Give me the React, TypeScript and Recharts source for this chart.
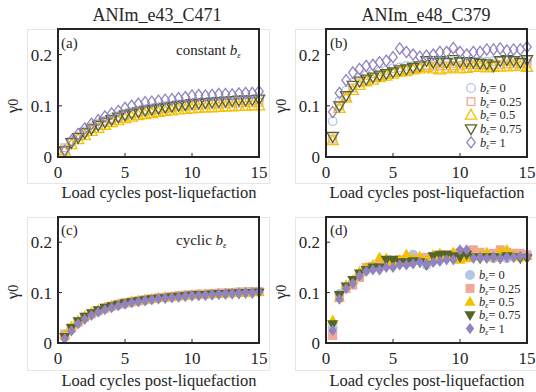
import React from "react";
import { ScatterChart, Scatter, XAxis, YAxis } from "recharts";

const cycles = [
  0.5, 1, 1.5, 2, 2.5, 3, 3.5, 4, 4.5, 5, 5.5, 6, 6.5, 7, 7.5, 8, 8.5, 9, 9.5,
  10, 10.5, 11, 11.5, 12, 12.5, 13, 13.5, 14, 14.5, 15,
];
const bLabels = ["0", "0.25", "0.5", "0.75", "1"];
const xTicks = [0, 5, 10, 15];
const yTicks = [0, 0.1, 0.2];
const titles = ["ANIm_e43_C471", "ANIm_e48_C379"];

// (a) constant b
const a0 = [0.014, 0.03, 0.04, 0.05, 0.058, 0.065, 0.071, 0.076, 0.08, 0.084, 0.087, 0.09, 0.093, 0.095, 0.097, 0.099, 0.1, 0.102, 0.103, 0.104, 0.105, 0.106, 0.107, 0.108, 0.108, 0.109, 0.11, 0.11, 0.111, 0.112];
const a025 = [0.018, 0.03, 0.04, 0.048, 0.056, 0.062, 0.068, 0.073, 0.077, 0.081, 0.084, 0.087, 0.089, 0.091, 0.093, 0.095, 0.096, 0.098, 0.099, 0.1, 0.101, 0.102, 0.103, 0.103, 0.104, 0.105, 0.105, 0.106, 0.106, 0.107];
const a05 = [0.012, 0.024, 0.034, 0.042, 0.05, 0.056, 0.062, 0.067, 0.071, 0.075, 0.078, 0.081, 0.083, 0.085, 0.087, 0.089, 0.09, 0.092, 0.093, 0.094, 0.095, 0.096, 0.096, 0.097, 0.098, 0.098, 0.099, 0.099, 0.1, 0.1];
const a075 = [0.012, 0.028, 0.038, 0.047, 0.055, 0.062, 0.068, 0.073, 0.078, 0.082, 0.085, 0.088, 0.091, 0.093, 0.095, 0.097, 0.099, 0.101, 0.102, 0.104, 0.105, 0.106, 0.107, 0.108, 0.109, 0.11, 0.111, 0.111, 0.112, 0.113];
const a1 = [0.012, 0.032, 0.045, 0.056, 0.065, 0.072, 0.079, 0.085, 0.09, 0.096, 0.1, 0.104, 0.107, 0.108, 0.11, 0.112, 0.113, 0.115, 0.117, 0.12, 0.121, 0.12, 0.121, 0.123, 0.123, 0.122, 0.124, 0.125, 0.125, 0.128];

// (b) constant b
const b0 = [0.07, 0.11, 0.13, 0.145, 0.155, 0.16, 0.163, 0.167, 0.17, 0.173, 0.175, 0.178, 0.178, 0.18, 0.18, 0.18, 0.182, 0.183, 0.183, 0.185, 0.185, 0.185, 0.186, 0.186, 0.187, 0.187, 0.187, 0.188, 0.188, 0.189];
const b025 = [0.035, 0.1, 0.118, 0.135, 0.145, 0.15, 0.155, 0.158, 0.162, 0.165, 0.168, 0.17, 0.173, 0.175, 0.178, 0.177, 0.178, 0.178, 0.178, 0.179, 0.18, 0.18, 0.18, 0.18, 0.181, 0.181, 0.182, 0.182, 0.183, 0.183];
const b05 = [0.032, 0.095, 0.115, 0.13, 0.14, 0.147, 0.15, 0.155, 0.158, 0.162, 0.166, 0.167, 0.17, 0.172, 0.175, 0.172, 0.17, 0.172, 0.174, 0.172, 0.173, 0.175, 0.175, 0.174, 0.175, 0.176, 0.176, 0.177, 0.177, 0.175];
const b075 = [0.04, 0.1, 0.12, 0.14, 0.148, 0.152, 0.156, 0.16, 0.163, 0.166, 0.17, 0.172, 0.175, 0.178, 0.188, 0.185, 0.188, 0.185, 0.19, 0.186, 0.186, 0.185, 0.183, 0.182, 0.178, 0.188, 0.19, 0.188, 0.185, 0.19];
const b1 = [0.088, 0.125, 0.15, 0.165, 0.172, 0.178, 0.18, 0.185, 0.188, 0.195, 0.212, 0.205, 0.2, 0.196, 0.198, 0.2, 0.205, 0.205, 0.213, 0.205, 0.2, 0.205, 0.205, 0.21, 0.21, 0.212, 0.208, 0.21, 0.21, 0.215];

// (c) cyclic b
const c0 = [0.012, 0.028, 0.04, 0.05, 0.057, 0.063, 0.068, 0.072, 0.075, 0.078, 0.081, 0.083, 0.085, 0.087, 0.089, 0.09, 0.091, 0.093, 0.094, 0.095, 0.096, 0.096, 0.097, 0.098, 0.099, 0.099, 0.1, 0.101, 0.101, 0.102];
const c025 = [0.018, 0.03, 0.042, 0.051, 0.058, 0.064, 0.069, 0.073, 0.077, 0.08, 0.082, 0.084, 0.086, 0.088, 0.09, 0.091, 0.092, 0.094, 0.095, 0.096, 0.097, 0.097, 0.098, 0.099, 0.099, 0.1, 0.101, 0.101, 0.102, 0.102];
const c05 = [0.016, 0.033, 0.045, 0.054, 0.061, 0.066, 0.071, 0.075, 0.078, 0.08, 0.083, 0.085, 0.087, 0.088, 0.09, 0.091, 0.092, 0.093, 0.094, 0.095, 0.096, 0.097, 0.097, 0.098, 0.099, 0.099, 0.1, 0.1, 0.101, 0.101];
const c075 = [0.012, 0.03, 0.043, 0.052, 0.059, 0.065, 0.07, 0.073, 0.076, 0.079, 0.081, 0.083, 0.085, 0.087, 0.088, 0.089, 0.091, 0.092, 0.093, 0.094, 0.095, 0.095, 0.096, 0.097, 0.097, 0.098, 0.098, 0.099, 0.099, 0.1];
const c1 = [0.008, 0.024, 0.038, 0.047, 0.055, 0.061, 0.066, 0.07, 0.074, 0.077, 0.08, 0.082, 0.084, 0.086, 0.088, 0.089, 0.09, 0.091, 0.093, 0.094, 0.094, 0.095, 0.096, 0.097, 0.098, 0.098, 0.099, 0.1, 0.1, 0.101];

// (d) cyclic b
const d0 = [0.03, 0.097, 0.11, 0.12, 0.135, 0.145, 0.15, 0.155, 0.158, 0.16, 0.162, 0.165, 0.175, 0.165, 0.155, 0.163, 0.168, 0.17, 0.172, 0.18, 0.175, 0.172, 0.17, 0.172, 0.168, 0.17, 0.168, 0.172, 0.172, 0.173];
const d025 = [0.015, 0.09, 0.108, 0.115, 0.13, 0.15, 0.152, 0.155, 0.16, 0.16, 0.165, 0.16, 0.165, 0.168, 0.17, 0.172, 0.172, 0.175, 0.175, 0.18, 0.175, 0.185, 0.18, 0.175, 0.178, 0.185, 0.18, 0.178, 0.178, 0.175];
const d05 = [0.045, 0.09, 0.115, 0.125, 0.142, 0.15, 0.155, 0.17, 0.168, 0.16, 0.165, 0.176, 0.168, 0.172, 0.165, 0.175, 0.178, 0.172, 0.18, 0.165, 0.168, 0.172, 0.175, 0.18, 0.17, 0.182, 0.185, 0.175, 0.17, 0.172];
const d075 = [0.037, 0.095, 0.112, 0.125, 0.138, 0.145, 0.15, 0.15, 0.165, 0.165, 0.16, 0.16, 0.162, 0.16, 0.155, 0.172, 0.175, 0.175, 0.172, 0.17, 0.175, 0.17, 0.168, 0.17, 0.17, 0.168, 0.172, 0.17, 0.168, 0.168];
const d1 = [0.025, 0.087, 0.108, 0.118, 0.133, 0.142, 0.145, 0.145, 0.15, 0.15, 0.155, 0.155, 0.157, 0.16, 0.157, 0.16, 0.162, 0.165, 0.165, 0.185, 0.185, 0.168, 0.17, 0.168, 0.17, 0.168, 0.17, 0.17, 0.172, 0.172];

const colors = ["#b3c6e6", "#eea99a", "#f2c100", "#55652a", "#9384bf"];
const kinds = ["circle", "square", "up", "down", "diamond"];
const FONT = "'Liberation Serif', 'Times New Roman', serif";
const INK = "#262626";

function Marker({ cx, cy, kind, color, filled }: any) {
  const fill = filled ? color : "none";
  const sw = filled ? 0 : 1.3;
  const common = { fill, stroke: color, strokeWidth: sw };
  if (kind === "circle") return <circle cx={cx} cy={cy} r={filled ? 5 : 4.3} {...common} />;
  if (kind === "square") {
    const s = filled ? 9 : 7.6;
    return <rect x={cx - s / 2} y={cy - s / 2} width={s} height={s} {...common} />;
  }
  if (kind === "up")
    return <polygon points={`${cx},${cy - 5.8} ${cx - 5.6},${cy + 4} ${cx + 5.6},${cy + 4}`} {...common} />;
  if (kind === "down")
    return <polygon points={`${cx},${cy + 5.8} ${cx - 5.6},${cy - 4} ${cx + 5.6},${cy - 4}`} {...common} />;
  return <polygon points={`${cx},${cy - 5.6} ${cx + 4.2},${cy} ${cx},${cy + 5.6} ${cx - 4.2},${cy}`} {...common} />;
}

const fmt = (v: number) => (v === 0 ? "0" : String(v));

function XTick(p: any) {
  return (
    <text x={p.x} y={p.y} dy="0.72em" textAnchor="middle" fontSize={17} fontFamily={FONT} fill={INK}>
      {fmt(p.payload.value)}
    </text>
  );
}

function YTick(p: any) {
  return (
    <text x={p.x} y={p.y} dy="0.36em" textAnchor="end" fontSize={17} fontFamily={FONT} fill={INK}>
      {fmt(p.payload.value)}
    </text>
  );
}

const line = { stroke: INK, strokeWidth: 1.6 };

function Panel({ series, filled, top, left, bottom }: any) {
  return (
    <div style={{ position: "absolute", left, top }}>
      <ScatterChart width={268} height={200} margin={{ top: 28, right: 8, bottom, left: 18 }}>
        <XAxis xAxisId="b" type="number" dataKey="x" domain={[0, 15]} ticks={xTicks}
          tickSize={-4} tickMargin={13} height={30} tick={<XTick />}
          axisLine={line} tickLine={{ stroke: INK }} />
        <XAxis xAxisId="t" orientation="top" type="number" domain={[0, 15]} ticks={xTicks}
          tickSize={-4} height={1} tick={false}
          axisLine={line} tickLine={{ stroke: INK }} />
        <YAxis yAxisId="l" type="number" dataKey="y" domain={[0, 0.25]} ticks={yTicks}
          tickSize={-4} tickMargin={10} width={40} tick={<YTick />}
          axisLine={line} tickLine={{ stroke: INK }} />
        <YAxis yAxisId="r" orientation="right" type="number" domain={[0, 0.25]} ticks={yTicks}
          tickSize={-4} width={1} tick={false}
          axisLine={line} tickLine={{ stroke: INK }} />
        {series.map((vals: number[], i: number) => (
          <Scatter key={i} xAxisId="b" yAxisId="l" isAnimationActive={false}
            data={cycles.map((x, j) => ({ x, y: vals[j] }))}
            shape={(p: any) => <Marker cx={p.cx} cy={p.cy} kind={kinds[i]} color={colors[i]} filled={filled} />} />
        ))}
      </ScatterChart>
    </div>
  );
}

function BLabel({ text, size = 15 }: any) {
  return (
    <span>
      <i>b</i>
      <sub style={{ fontSize: size * 0.6, verticalAlign: -3, lineHeight: 0, fontStyle: "italic" }}>ε</sub>
      {text}
    </span>
  );
}

function Legend({ top, left, filled, step }: any) {
  const h = step * 5 + 10;
  return (
    <svg width={80} height={h} style={{ position: "absolute", left: left - 8, top: top - 8, overflow: "visible" }}>
      {bLabels.map((b, i) => (
        <g key={b}>
          <Marker cx={8} cy={8 + i * step} kind={kinds[i]} color={colors[i]} filled={filled} />
          <text x={17} y={8 + i * step + 4.2} fontSize={12.5} fontFamily={FONT} fill={INK}>
            <tspan fontStyle="italic">b</tspan>
            <tspan fontStyle="italic" fontSize={8} dy={2}>ε</tspan>
            <tspan dy={-2}>{"= " + b}</tspan>
          </text>
        </g>
      ))}
    </svg>
  );
}

const abs = (l: number, t: number, extra: any = {}) => ({ position: "absolute" as const, left: l, top: t, ...extra });

function YLabel({ cx, cy }: any) {
  return (
    <div style={abs(cx - 11, cy - 10, { width: 22, height: 20, transform: "rotate(-90deg)", fontSize: 17, lineHeight: "20px", textAlign: "center", color: INK })}>
      γ<span style={{ fontSize: 14 }}>0</span>
    </div>
  );
}

function XLabel({ cx, cy }: any) {
  return (
    <div style={abs(cx - 110, cy - 10, { width: 220, textAlign: "center", fontSize: 16.5, lineHeight: "20px", color: INK, whiteSpace: "nowrap" })}>
      Load cycles post-liquefaction
    </div>
  );
}

function Frame({ l, t, w, h }: any) {
  return <div style={abs(l - 1, t - 1, { width: w + 2, height: h + 2, boxSizing: "border-box", border: `2px solid ${INK}`, pointerEvents: "none" })} />;
}

export default function App() {
  const gray = { border: "1px solid #e6e6e6", boxSizing: "border-box" };
  return (
    <div style={{ position: "fixed", left: 0, top: 0, width: 536, height: 392, background: "#fff", fontFamily: FONT, overflow: "hidden" }}>
      <div style={abs(27, 29, { width: 243, height: 155, ...gray })} />
      <div style={abs(295, 29, { width: 245, height: 155, ...gray })} />
      <div style={abs(27, 217, { width: 243, height: 154, ...gray })} />
      <div style={abs(295, 217, { width: 245, height: 154, ...gray })} />

      <Panel series={[a0, a025, a05, a075, a1]} filled={false} left={0} top={0} bottom={13} />
      <Panel series={[b0, b025, b05, b075, b1]} filled={false} left={268} top={0} bottom={13} />
      <Panel series={[c0, c025, c05, c075, c1]} filled={true} left={0} top={188} bottom={15} />
      <Panel series={[d0, d025, d05, d075, d1]} filled={true} left={268} top={188} bottom={15} />

      <Frame l={58} t={29} w={201} h={128} />
      <Frame l={326} t={29} w={201} h={128} />
      <Frame l={58} t={217} w={201} h={126} />
      <Frame l={326} t={217} w={201} h={126} />

      <div style={abs(57, 4, { width: 200, textAlign: "center", fontSize: 18, lineHeight: "22px", color: INK })}>{titles[0]}</div>
      <div style={abs(326, 4, { width: 200, textAlign: "center", fontSize: 18, lineHeight: "22px", color: INK })}>{titles[1]}</div>

      <YLabel cx={13} cy={106} />
      <YLabel cx={13} cy={292} />
      <YLabel cx={281} cy={106} />
      <YLabel cx={281} cy={292} />

      <XLabel cx={159} cy={193} />
      <XLabel cx={427} cy={193} />
      <XLabel cx={159} cy={381} />
      <XLabel cx={427} cy={381} />

      <div style={abs(61, 34, { fontSize: 15, lineHeight: "18px", color: INK })}>(a)</div>
      <div style={abs(330, 34, { fontSize: 15, lineHeight: "18px", color: INK })}>(b)</div>
      <div style={abs(61, 221, { fontSize: 15, lineHeight: "18px", color: INK })}>(c)</div>
      <div style={abs(330, 221, { fontSize: 15, lineHeight: "18px", color: INK })}>(d)</div>

      <div style={abs(176, 41, { fontSize: 15, lineHeight: "18px", color: INK, whiteSpace: "nowrap" })}>
        constant <BLabel text="" />
      </div>
      <div style={abs(176, 231, { fontSize: 15, lineHeight: "18px", color: INK, whiteSpace: "nowrap" })}>
        cyclic <BLabel text="" />
      </div>

      <Legend top={88} left={471} filled={false} step={13.6} />
      <Legend top={275} left={470} filled={true} step={13.4} />
    </div>
  );
}
